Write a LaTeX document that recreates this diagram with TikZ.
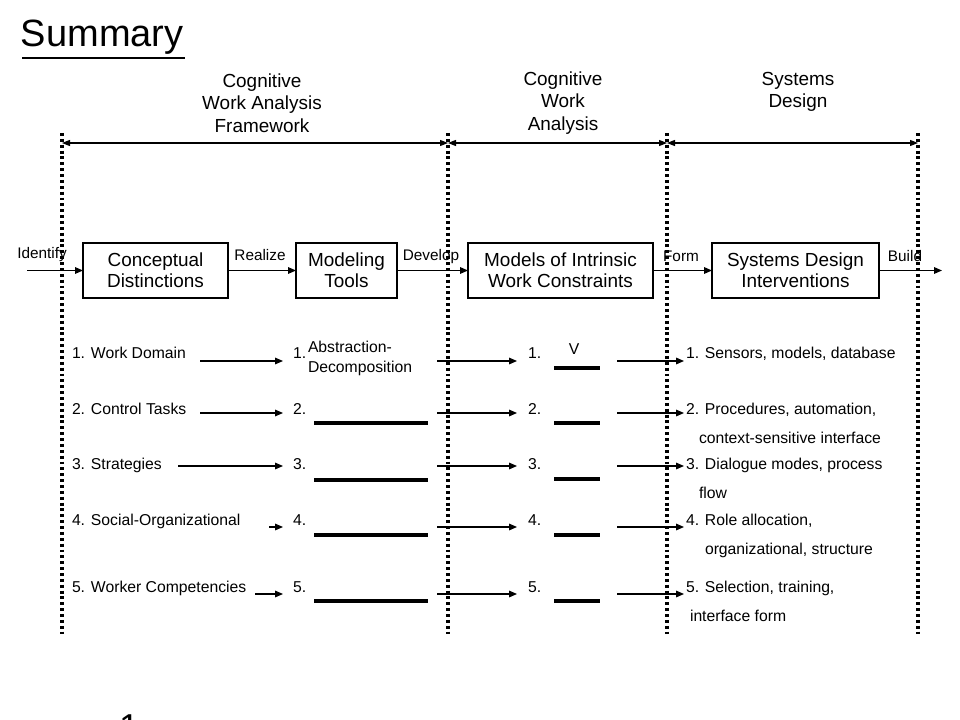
\documentclass[tikz,border=0pt]{standalone}
\usepackage{fontspec}
\setmainfont{Liberation Sans}
\usetikzlibrary{arrows.meta}
\begin{document}
\begin{tikzpicture}[x=0.75pt,y=-0.75pt,
  every node/.style={inner sep=0pt, outer sep=0pt},
  head/.style={font=\fontsize{14.2}{16.9}\selectfont, align=center},
  boxtxt/.style={draw, line width=0.8pt, font=\fontsize{14.2}{15.8}\selectfont, align=center, minimum height=41.25pt},
  lbl/.style={font=\fontsize{11.5}{13}\selectfont},
  item/.style={font=\fontsize{11.8}{15}\selectfont, anchor=west, text height=0.72em, text depth=0.2em},
  divider/.style={line width=2.3pt, dash pattern=on 2.2pt off 2.2pt},
  arr/.style={line width=0.8pt, -{Triangle[length=6pt,width=5pt]}},
  span/.style={line width=0.8pt, {Triangle[length=6pt,width=4.5pt]}-{Triangle[length=6pt,width=4.5pt]}},
  blank/.style={line width=2.6pt}
]
\useasboundingbox (0,0) rectangle (960,720);

% title
\node[font=\fontsize{28.5}{30}\selectfont, anchor=south west] (title) at (21,54) {Summary};
\draw[line width=2.2pt] (22,58) -- (185,58);

% dividers
\foreach \n/\x in {d1/62, d2/448, d3/667, d4/918} {
  \coordinate (\n t) at (\x,133);
  \coordinate (\n b) at (\x,634);
  \coordinate (\n m) at (\x,143);
  \draw[divider] (\n t) -- (\n b);
}
\draw[span] (d1m) -- (d2m);
\draw[span] (d2m) -- (d3m);
\draw[span] (d3m) -- (d4m);

% headers
\node[head] (h1) at (262,103) {Cognitive\\Work Analysis\\Framework};
\node[head] (h2) at (563,103) {Cognitive\\Work\\Analysis};
\node[head] (h3) at (798,92) {Systems\\Design};

% boxes
\node[boxtxt, minimum width=108.75pt] (b1) at (155.5,270.5) {Conceptual\\Distinctions};
\node[boxtxt, minimum width=75.75pt] (b2) at (346.5,270.5) {Modeling\\Tools};
\node[boxtxt, minimum width=138.75pt] (b3) at (560.5,270.5) {Models of Intrinsic\\Work Constraints};
\node[boxtxt, minimum width=125.25pt] (b4) at (795.5,270.5) {Systems Design\\Interventions};

\coordinate (in) at (27,270.5);
\coordinate (out) at (942,270.5);
\draw[arr] (in) -- (b1);
\draw[arr] (b1) -- (b2);
\draw[arr] (b2) -- (b3);
\draw[arr] (b3) -- (b4);
\draw[arr] (b4) -- (out);

\node[lbl] (lid) at (42,255) {Identify};
\node[lbl] (lre) at (260,255) {Realize};
\node[lbl] (lde) at (431,257) {Develop};
\node[lbl] (lfo) at (681,256) {Form};
\node[lbl] (lbu) at (905,256) {Build};

% left column items
\node[item] (c1) at (72,355) {1. Work Domain};
\node[item] (c2) at (72,411) {2. Control Tasks};
\node[item] (c3) at (72,466) {3. Strategies};
\node[item] (c4) at (72,522) {4. Social-Organizational};
\node[item] (c5) at (72,589) {5. Worker Competencies};

% modeling tool items
\node[item] (m1) at (293,355) {1.};
\node[item] (m2) at (293,411) {2.};
\node[item] (m3) at (293,466) {3.};
\node[item] (m4) at (293,522) {4.};
\node[item] (m5) at (293,589) {5.};
\node[item] (ad1) at (308,349) {Abstraction-};
\node[item] (ad2) at (308,369) {Decomposition};

% constraint items
\node[item] (w1) at (528,355) {1.};
\node[item] (w2) at (528,411) {2.};
\node[item] (w3) at (528,466) {3.};
\node[item] (w4) at (528,522) {4.};
\node[item] (w5) at (528,589) {5.};
\node[item, anchor=center] (vv) at (574,351) {V};

% interventions
\node[item] (s1) at (686,355) {1. Sensors, models, database};
\node[item] (s2) at (686,411) {2. Procedures, automation,};
\node[item] (s2b) at (699,440) {context-sensitive interface};
\node[item] (s3) at (686,466) {3. Dialogue modes, process};
\node[item] (s3b) at (699,495) {flow};
\node[item] (s4) at (686,522) {4. Role allocation,};
\node[item] (s4b) at (705,551) {organizational, structure};
\node[item] (s5) at (686,589) {5. Selection, training,};
\node[item] (s5b) at (690,618) {interface form};

% row arrows
\foreach \r/\y/\xs in {1/361/200, 2/413/200, 3/466/178, 4/527/269, 5/594/255} {
  \coordinate (la\r) at (\xs,\y);
  \coordinate (lb\r) at (283,\y);
  \coordinate (ma\r) at (437,\y);
  \coordinate (mb\r) at (517,\y);
  \coordinate (ra\r) at (617,\y);
  \coordinate (rb\r) at (684,\y);
  \draw[arr] (la\r) -- (lb\r);
  \draw[arr] (ma\r) -- (mb\r);
  \draw[arr] (ra\r) -- (rb\r);
}

% blanks
\foreach \r/\y in {2/423, 3/480, 4/535, 5/601} {
  \coordinate (ua\r) at (314,\y);
  \coordinate (ub\r) at (428,\y);
  \draw[blank] (ua\r) -- (ub\r);
}
\foreach \r/\y in {1/368, 2/423, 3/479, 4/535, 5/601} {
  \coordinate (va\r) at (554,\y);
  \coordinate (vb\r) at (600,\y);
  \draw[blank] (va\r) -- (vb\r);
}

% slide number fragment (cut off at the lower edge, as in the reference)
\node[font=\fontsize{27}{30}\selectfont, anchor=north west] (pg) at (119,715) {1};
\end{tikzpicture}
\end{document}
